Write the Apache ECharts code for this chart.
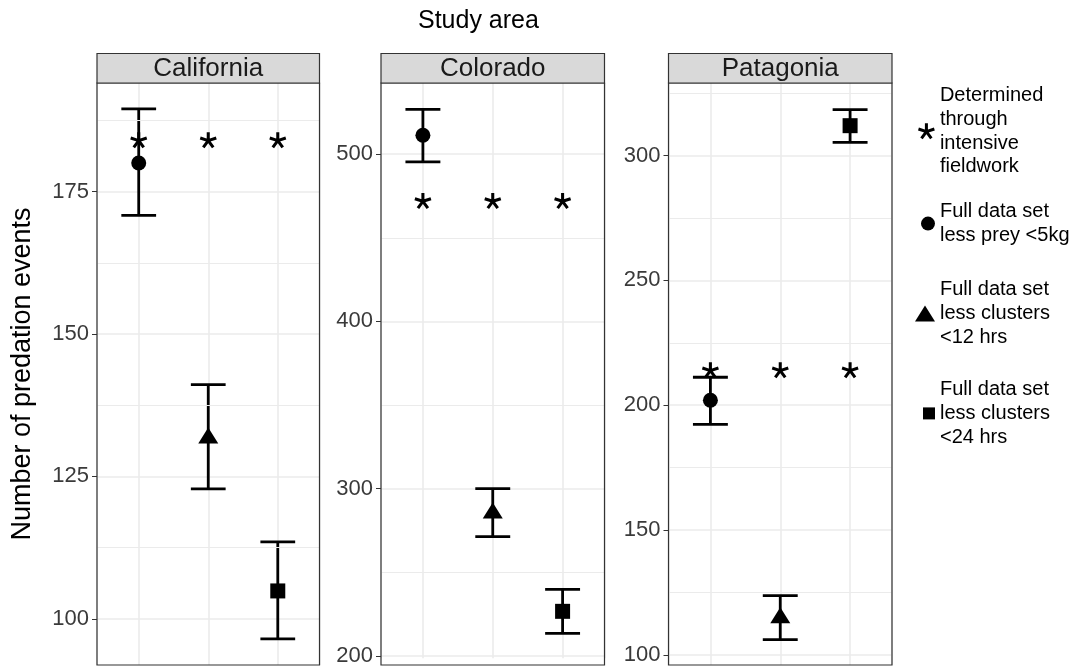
<!DOCTYPE html>
<html>
<head>
<meta charset="utf-8">
<script src="https://cdn.jsdelivr.net/npm/echarts@6/dist/echarts.min.js"></script>
<style>
html,body{margin:0;padding:0;background:#fff;}
#chart{width:1071px;height:667px;}
</style>
</head>
<body>
<div id="chart"></div>
<script>
// ---------------- data ----------------
const areas = ['California', 'Colorado', 'Patagonia'];
const methods = [
  'Full data set\nless prey <5kg',
  'Full data set\nless clusters\n<12 hrs',
  'Full data set\nless clusters\n<24 hrs'
];
const fieldworkName = 'Determined\nthrough\nintensive\nfieldwork';
const fieldwork = [184, 472, 214];

const meanPrey5kg = [180.0, 511.3, 202.0];
const lowPrey5kg  = [170.8, 495.3, 192.3];
const highPrey5kg = [189.5, 526.7, 211.2];

const meanClus12 = [132.2, 287.0, 115.8];
const lowClus12  = [122.8, 271.3, 106.1];
const highClus12 = [141.1, 300.0, 123.7];

const meanClus24 = [104.9, 226.7, 312.0];
const lowClus24  = [96.5, 213.5, 305.3];
const highClus24 = [113.5, 239.8, 318.4];

const yMin = [91.9, 198.6, 95.9];
const yMax = [194.05, 542.5, 329.1];
const yStep = [25, 100, 50];
const yTicks = [[100, 125, 150, 175], [200, 300, 400, 500], [100, 150, 200, 250, 300]];

// ---------------- layout / style ----------------
const FONT = '"Liberation Sans", Arial, Helvetica, sans-serif';
const gridLeft = [97, 381, 668.5];
const gridWidth = [222.5, 223.5, 223.5];
const gridTop = 83;
const gridHeight = 582;
const stripTop = 53.5;
const stripH = 29.5;
const GRID_COLOR = '#ebebeb';
const BORDER = '#333333';
const capHalf = 0.25;

const meanSets = [
  {mean: meanPrey5kg, low: lowPrey5kg, high: highPrey5kg, symbol: 'circle', size: 15},
  {mean: meanClus12, low: lowClus12, high: highClus12, symbol: 'triangle', size: [20, 16]},
  {mean: meanClus24, low: lowClus24, high: highClus24, symbol: 'rect', size: [15, 15]}
];

const asteriskPath = 'path://M-10 10L-10 -10L10 -10L10 10Z' +
  'M-9 0L-9 -50L9 -50L9 0Z' +
  'M-2.78 -8.56L44.77 -24.01L50.33 -6.89L2.78 8.56Z' +
  'M7.28 -5.29L36.67 35.16L22.11 45.74L-7.28 5.29Z' +
  'M7.28 5.29L-22.11 45.74L-36.67 35.16L-7.28 -5.29Z' +
  'M-2.78 8.56L-50.33 -6.89L-44.77 -24.01L2.78 -8.56Z';

function minorLines(i) {
  const out = [];
  const s = yStep[i];
  let v = Math.ceil((yMin[i] - s / 2) / s) * s + s / 2;
  for (; v < yMax[i]; v += s) if (v > yMin[i]) out.push(v);
  return out;
}

function errorBarRender(params, api) {
  const x = api.value(0), lo = api.value(1), hi = api.value(2);
  const t = api.coord([x, hi]), b = api.coord([x, lo]);
  const tl = api.coord([x - capHalf, hi]), tr = api.coord([x + capHalf, hi]);
  const bl = api.coord([x - capHalf, lo]), br = api.coord([x + capHalf, lo]);
  const style = {stroke: '#000', lineWidth: 2.8, fill: null};
  return {
    type: 'group',
    children: [
      {type: 'line', shape: {x1: t[0], y1: t[1], x2: b[0], y2: b[1]}, style},
      {type: 'line', shape: {x1: tl[0], y1: tl[1], x2: tr[0], y2: tr[1]}, style},
      {type: 'line', shape: {x1: bl[0], y1: bl[1], x2: br[0], y2: br[1]}, style}
    ]
  };
}

const grids = [], xAxes = [], yAxes = [], series = [], graphics = [];

areas.forEach((area, i) => {
  grids.push({
    left: gridLeft[i], top: gridTop, width: gridWidth[i], height: gridHeight,
    show: true, borderColor: 'transparent', borderWidth: 0, backgroundColor: '#fff',
    containLabel: false
  });
  xAxes.push({
    gridIndex: i, type: 'value', min: 0.4, max: 3.6, minInterval: 1, maxInterval: 1,
    axisLine: {show: false}, axisTick: {show: false}, axisLabel: {show: false},
    splitLine: {show: true, lineStyle: {color: GRID_COLOR, width: 1.6}}
  });
  const yAx = {
    gridIndex: i, type: 'value', min: yMin[i], max: yMax[i],
    minInterval: yStep[i], maxInterval: yStep[i],
    axisLine: {show: false},
    axisTick: {show: true, length: 5, lineStyle: {color: BORDER, width: 1}, customValues: yTicks[i]},
    axisLabel: {show: true, fontFamily: FONT, fontSize: 22, color: '#3a3a3a', margin: 8, customValues: yTicks[i]},
    splitLine: {show: true, lineStyle: {color: GRID_COLOR, width: 1.6}}
  };
  if (i === 0) {
    yAx.name = 'Number of predation events';
    yAx.nameLocation = 'middle';
    yAx.nameRotate = 90;
    yAx.nameGap = 61;
    yAx.nameTextStyle = {fontFamily: FONT, fontSize: 27, color: '#000'};
  }
  yAxes.push(yAx);

  // minor gridlines
  series.push({
    type: 'scatter', xAxisIndex: i, yAxisIndex: i, data: [], silent: true, z: 1,
    markLine: {
      silent: true, symbol: 'none', label: {show: false}, animation: false,
      lineStyle: {color: GRID_COLOR, width: 1, type: 'solid'},
      data: minorLines(i).map(v => ({yAxis: v}))
    }
  });

  // error bars
  series.push({
    type: 'custom', xAxisIndex: i, yAxisIndex: i, z: 3, silent: true,
    encode: {x: 0, y: [1, 2]},
    renderItem: errorBarRender,
    data: meanSets.map((m, k) => [k + 1, m.low[i], m.high[i]])
  });

  // means
  meanSets.forEach((m, k) => {
    series.push({
      name: methods[k], type: 'scatter', xAxisIndex: i, yAxisIndex: i, z: 4,
      symbol: m.symbol, symbolSize: m.size,
      itemStyle: {color: '#000', opacity: 1},
      data: [[k + 1, m.mean[i]]]
    });
  });

  // fieldwork asterisks
  series.push({
    name: fieldworkName, type: 'scatter', xAxisIndex: i, yAxisIndex: i, z: 5,
    symbol: asteriskPath, symbolSize: [17, 16],
    itemStyle: {color: '#000', opacity: 1},
    data: methods.map((_, k) => [k + 1, fieldwork[i]])
  });

  // panel border on top of grid lines
  graphics.push({
    type: 'rect', silent: true,
    shape: {x: gridLeft[i], y: gridTop, width: gridWidth[i], height: gridHeight},
    style: {fill: null, stroke: BORDER, lineWidth: 1.2}, z: 100
  });
  // strip
  graphics.push({
    type: 'rect', silent: true,
    shape: {x: gridLeft[i], y: stripTop, width: gridWidth[i], height: stripH},
    style: {fill: '#d9d9d9', stroke: BORDER, lineWidth: 1.2}, z: 101
  });
  graphics.push({
    type: 'text', x: gridLeft[i] + gridWidth[i] / 2, y: stripTop + stripH / 2 + 0.5, silent: true,
    style: {text: area, fontFamily: FONT, fontSize: 26, fill: '#1a1a1a', align: 'center', verticalAlign: 'middle'},
    z: 102
  });
});

const legendText = {fontFamily: FONT, fontSize: 20, lineHeight: 23.6, color: '#000'};
const legends = [
  {name: fieldworkName, icon: asteriskPath, left: 918, top: 84, w: 17, h: 16},
  {name: methods[0], icon: 'circle', left: 921, top: 200, w: 14, h: 14},
  {name: methods[1], icon: 'triangle', left: 915, top: 278, w: 20, h: 16},
  {name: methods[2], icon: 'rect', left: 923, top: 378, w: 12, h: 12}
].map(l => ({
  data: [{name: l.name, icon: l.icon}], left: l.left, top: l.top, orient: 'vertical',
  itemWidth: l.w, itemHeight: l.h, padding: 0, itemGap: 0, selectedMode: false,
  textStyle: legendText, itemStyle: {color: '#000'}
}));

const chart = echarts.init(document.getElementById('chart'), null, {renderer: 'canvas'});
chart.setOption({
  animation: false,
  backgroundColor: '#fff',
  textStyle: {fontFamily: FONT},
  title: {
    text: 'Study area', left: 418, top: 9, padding: 0,
    textStyle: {fontFamily: FONT, fontSize: 25, fontWeight: 'normal', color: '#000'}
  },
  grid: grids,
  xAxis: xAxes,
  yAxis: yAxes,
  legend: legends,
  series: series,
  graphic: graphics
});
</script>
</body>
</html>
